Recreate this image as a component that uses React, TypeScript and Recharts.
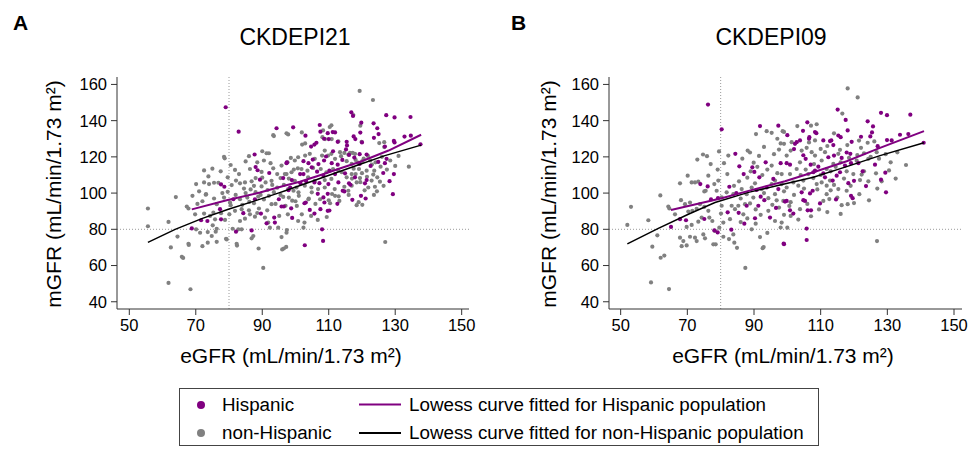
import React from 'react';
import { ScatterChart, Scatter, XAxis, YAxis, ReferenceLine } from 'recharts';

const FONT = '"Liberation Sans", Arial, Helvetica, sans-serif';
const PURPLE = '#800080';
const GRAY = '#808080';

const xTicks = [50, 70, 90, 110, 130, 150];
const yTicks = [40, 60, 80, 100, 120, 140, 160];
const titleA = 'CKDEPI21';
const titleB = 'CKDEPI09';
const xLabel = 'eGFR (mL/min/1.73 m²)';
const yLabel = 'mGFR (mL/min/1.73 m²)';
const legendLabels = ['Hispanic', 'non-Hispanic', 'Lowess curve fitted for Hispanic population', 'Lowess curve fitted for non-Hispanic population'];

const hispanicA: number[][] = [
  [68.8,80.5],[79,147.4],[82.9,133.9],[108.3,73.6],[102.8,71.2],[108,80],[137.6,126.9],[134.6,142],[129.8,141.8],[127.3,143],[129.3,99.4],[129.6,110.5],[128.3,106.6],[132.8,131.2],[129.8,128],[116.8,144.6],[117.3,142.6],[107.3,137.6],[99.3,136.3],[94.3,135.8],[119.8,138.9],[123.5,138.5],[119.5,133.4],[124.6,135.8],[125,132.6],
  [123.6,130.5],[134.7,131.7],[129.6,128.8],[120,128],[117.5,131.3],[118,129.8],[107.5,133.9],[109.7,133.1],[111.2,133.7],[111.9,133.5],[103,131.7],[106.3,127.8],[105.7,126.8],[104.7,125.7],[108.6,130],[110,129.8],[112.7,128.3],[115.4,128.3],[115.5,126.3],[115.2,124.1],[111.3,123.1],[109.2,120.2],[108.6,118],[106.9,116],[105.2,118.5],[103.9,116.5],[102.4,117.6],[104.9,114.2],[106.5,111.8],[110.9,116.5],[112.7,115.7],[114.1,118.3],[116.1,121.1],[117.7,119.6],[119.3,121.5],[121.4,121.3],[119.3,116.1],[122.6,115],[124.9,117.2],[126.9,116.5],[127.4,118.9],[126.4,111.1],[126.9,125.7],[116.1,105.4],[120.9,105.4],[121.4,107.2],[114.9,110.9],[111.9,110.5],[110.2,112.4],[108.4,109.6],[107.2,105.5],[105.7,105.9],[102.4,110.5],[101.4,110.5],[101.5,105.4],[98.9,107.2],[98.4,103.1],[97.4,117],[103.2,106.5],[109.9,105],[112.9,105.9],[114.2,101.3],[116.5,104.6],[117.9,108.7],
  [87.7,121.3],[88,114.4],[77.6,104.8],[78.6,103.5],[89.3,107.4],[88.6,112.6],[92.1,111.1],[97.3,116.5],[96.3,108.3],
  [71.6,85],[73.5,84.6],[77.6,85.5],[82.1,78.7],[86.8,79.4],[84.3,88.9],[89.6,88.7],[91.3,83.3],[93.8,83.7],[93.6,86.5],[95.8,92.6],[96.5,92.6],[95,96.6],[81.3,96.6],[77.3,91.1],
  [121.1,97],[119.7,98.5],[117.1,96.3],[114.7,100.9],[112.6,94.1],[109.7,90.2],[110.2,90.4],[107.5,91.1],[108.7,94.8],[108.4,97.6],[106.7,99.6],[105.7,88.7],[104.3,90.7],[103.1,94.8],[102.7,94.4],[98.7,91.6],[99,86.3],[97.9,101.6],[109.7,99.6],[87.8,96.6],
];

const nonHispanicA: number[][] = [
  [55.6,91.5],[55.6,81.7],[61.8,84.1],[61.8,50.4],[62.5,70],[64,97.8],[64.5,76],[65.8,64.8],[66.2,64.2],[68.4,46.9],[67.9,71.4],[78.5,120],[78.7,119.2],[90.3,58.7],[119.3,156.4],[123.3,151.4],[127,73],[96.5,69.4],[96,68.9],[88.9,69.4],[82.4,71],[79.3,74.4],[134.1,114.6],[110.3,136.5],[97.3,133],[97.8,132.4],[93.5,131.5],
  [117.4,143.1],[110.8,137.4],[119.5,137.2],[101.9,133.5],[108.3,134.6],[102,126.8],[102.9,127.4],[108.1,130.9],[108.9,129.8],[110.9,129.8],[112.9,128.5],[119.9,128.3],[125.2,127.6],[126.7,128.1],[126.7,125.4],[124.1,117],[125.6,114.6],[123.7,112.4],[123.4,110.2],[124.6,108.7],[125.4,106.3],[122.9,106.9],[121.9,103.1],[123.9,103.5],[121.4,112.4],[120.1,117.6],[119.1,113.3],[116.9,116.1],[115.9,121.3],[114.7,122.2],[113.4,122.6],[113.7,120.4],[116.4,122.2],[117.2,122.2],[117.9,121.7],[118.1,118.3],[115.4,117.6],[111.9,118.9],[110.8,121.7],[109.8,120.7],[108.8,123.5],[108,120.7],[105.8,118.9],[104.3,121.7],[102.9,120.7],[100.8,119.8],[99.8,118],[98.6,119.4],[97.6,117],[97.3,110.5],[98.8,111.5],[100.7,113.7],[101.8,113.3],[103.6,112.4],[105.3,113.9],[107.6,113.3],[109.3,111.5],[111.3,113.3],[112.8,112.8],[113.9,111.5],[115.4,108.7],[116.9,110.5],[118.1,110.5],[119.4,108.3],[118.4,105.9],[116.9,104.1],[114.7,103.5],[111.8,102.2],[108.8,103.1],[106.8,102.2],[104.8,103.1],[102.8,104.1],[100.3,103.1],[97.8,102.2],[110.8,107.8],[108.8,107.2],[105.8,106.8],[103.8,108.7],[99.8,106.8],
  [120.5,119],[121.8,120.5],[118.8,116.8],[122.5,118],[117.5,113.5],[120,111],[121.5,109],[119.5,106],[117,108],[123,115.8],[126,120],[128.5,118],[127.5,113],[130,115],[131,120.5],[126.5,104],[124.5,101],[120.8,101.5],[119,95],[116,99],[113,98.2],[111,99.5],[110,96],[106,94],[104,97],[101,98.5],[100,95.5],[98,97.5],
  [93.3,132],[90,123.1],[91.3,122],[92,122],[86,120.4],[86.3,113.3],[81.8,112.8],[73.8,109.2],[70.1,105],[72.5,105.9],[74,105],[75.5,105.7],[76.8,105.7],[79.6,108.7],[80.8,104.4],[82.1,106.9],[83.3,105.4],[84.8,105.9],[86.8,106.5],[88,108.3],[89.8,111.7],[93.3,113.7],[95.8,115.2],[94.5,110.5],[95.5,108.3],[96.8,110.5],[91,105.9],[92.8,106.8],[89.8,103.7],[91.6,101.7],
  [67.8,72],[70.1,80],[67.3,92.6],[67.8,91.5],[73,99.1],[69.8,88.3],[72.5,88.7],[74.3,87.4],[75.3,89.2],[77.6,88.9],[75.8,85.5],[75.1,82.2],[76.3,80.3],[76,78.7],[73.6,78.5],[71.3,78.1],[74.8,76.3],[76.3,73.1],[73.6,72.6],[72,70.7],[79.1,74.8],[80.1,88.3],[78.8,85.2],[82.3,72],[81.1,80.3],[83.8,80],[82.8,80],[87.3,76.3],[86.8,75],[83.3,84.6],[84.8,85.9],[86.3,88.3],[87.8,87],[90.8,86.5],[91.8,83.7],[92.3,80.9],[95.1,87.4],[95.8,75.7],[97.3,78.1],[94.8,80.9],[92.8,93.9],[96.3,97.9],[78,100],[79.6,100.7],[80.3,94.8],[81.8,90.2],[83.8,91.1],[83.3,96.6],[76.3,93.9],
  [123.6,99],[120.1,93.5],[118.4,93.3],[115.9,101.3],[113.2,95.7],[111.9,98.5],[110.4,94.4],[109.4,86.8],[106.7,85.2],[104.7,87.4],[102.7,83.7],[100.8,84.6],[100.4,92.9],[97.7,88.3],[101.9,88.3],[103.9,96.6],[102.4,80.9],[97.4,79.6],[97.2,70.3],[99.4,101.3],[100.9,100.4],[104.9,100.4],[107.4,96.6],
  [73.1,99.4],[80.5,93.3],[86.1,95.1],[87.5,94.4],[88.8,98.1],
  [85,100],[86.5,102],[88,100.5],[89.5,99],[90.5,96.5],[92,98.5],[93.5,100.5],[94.5,103],[95.5,99],[96.5,104.5],[93,104.5],[90,108.5],[87.5,104],[85.5,97.5],[84,93.5],[82,99],[89,91.5],[91.5,90.5],[94,94],[97,93],[99,95.8],[86,90.5],[88.5,89],[84.5,102.5],[98,108],[99.5,113],[92.5,116.5],[90.5,118],[88.5,117],[85,117.5],[83,110.5],[80.5,115.5],[77.5,112],[75,113.5],[72.5,112.5],[71,101],[69,98.5],[75.5,97],[78.5,97.5],[70.5,94],[72,95.5],
];

const hispanicB: number[][] = [
  [76.2,148.9],[80.3,135.2],[65.1,81.3],[73.9,105],[76.1,103.7],[69.6,85],[67.8,85.6],[75.1,85.7],[78.1,79.4],[79.1,78.3],[83.2,79.8],[82.1,89.4],[85.4,89.1],[87.1,83.1],[90.3,86.1],[91.3,93],[94.8,86.5],[98.9,72.1],[96.6,91.8],[91.8,137],[97.3,137.2],[84.4,121.7],[85.6,114.8],[86.9,110.5],[89.5,114.2],[93.5,117],[98,116.5],[91.6,108.7],[90.1,111.7],[95.8,107.8],[82.6,103.5],[77.1,96.5],[79.2,97.2],[84.7,100],[90.8,101.7],[93.8,103.1],[92,98],[93.1,96.1],[97.3,102.2],[87.8,93],
  [115.1,146.1],[128.1,144.3],[129.9,143],[136.9,143.3],[117.5,140.4],[124.1,139.6],[125.7,136.8],[106,139.1],[104.7,134.4],[100,132],[106.6,130.9],[106.5,130],[108.3,133.7],[108.7,133.1],[115.3,131.8],[116,130.9],[118.1,134.6],[122.1,131.1],[124.9,131.3],[125.4,133.5],[129.9,129.3],[131.3,129.1],[133.8,132.2],[136.3,132.6],[140.9,127.8],[119.3,128.3],[127.1,125.9],[118.9,121.7],[117.8,122.4],[113.8,126.5],[113.2,129.1],[110.8,129.1],[112.8,128.7],[103.8,129.1],[102.3,127.2],[102.8,128.1],[102,124.3],[99.8,116.5],[100.8,115.7],[104.8,120.9],[105.5,118.9],[107,115.7],[109.3,114.6],[107.8,111.5],[108.3,112.4],[112.3,119.8],[114,120.7],[116.3,119.4],[117.3,115.2],[119.1,116.5],[115.8,111.5],[114.8,109.6],[113.6,106.9],[110.8,110.9],[111.3,108.7],[122.6,112],[121.3,116.5],[126.3,115.7],[129.4,111.3],[128.1,107.4],[120,106.8],[118.3,105.5],[123.6,103.9],[129.6,100.4],[119.1,98.5],[119.6,97.2],[114.6,96.5],[109.8,94.3],[107.6,101.3],[106.8,99.8],[104.3,100.4],[105.3,95.7],[104.8,96.1],[99.8,95.7],[99.3,95.3],[101.8,88.7],[100.8,90.5],[106.1,90.5],[107.1,90.5],[105.8,80.4],[105.8,74.1],[99,71.8],
];

const nonHispanicB: number[][] = [
  [74.7,121.3],[75.9,120.4],[53.1,92.4],[52,82.4],[58.3,85],[61.9,98.7],[61,76.7],[59.5,70.4],[62,64.3],[63.1,65.5],[59.1,50.7],[64.5,47],[64.3,92.6],[64.6,91.5],[67.8,105.4],[70.1,109.6],[71.3,105.9],[72.3,105.9],[73.3,106.3],[75.1,100.9],[75.5,101.3],[76.3,109.6],[79.1,113],[75.1,92.4],[76.3,90.2],[66.3,88.3],[70.3,89.8],[71.5,90.2],[72.8,91.3],[73.8,93.9],[70.8,94.8],[69.3,93.9],[68.1,96.1],[74.3,86.5],[73.3,84.2],[71.3,82.4],[69.8,81.3],[67.8,75.4],[68.8,73.5],[70.8,75.9],[72.3,75.4],[72.8,73.5],[69.8,71.1],[68.3,70.7],[74.8,77.2],[75.3,75],[76.6,86.5],[77.5,84.6],[78.3,79.1],[77.8,71.7],[78.5,71.7],[79.6,80.9],[80.8,75.9],[82.5,74.6],[83.8,77.2],[84.1,72.6],[84.9,69.8],[87.4,58.7],[80.8,83.7],[82.8,85.6],[80.1,88.7],[84.3,91.1],[86.8,88.3],[89.3,80],[90.5,83.1],[91.8,75.7],[92.9,70.2],[92.6,69.6],[96.3,84.6],[94.3,90.2],[90.6,132.6],[93.8,134.2],[95.3,133.3],[98,127.4],[88.1,123.5],[88.8,122.4],[82.3,120.7],[89.9,116.8],[95.3,115.2],[79.3,106.9],[78.1,105],[78.8,101.3],[80.3,97.6],[81.8,100.4],[83.8,99.4],[86.3,102.2],[87.8,99.4],[89.3,103.1],[90.3,105.4],[92.3,102.2],[95.3,105],[94.3,97.2],[96.3,99.4],[98.8,95.7],[98.3,105],[96.3,106.9],[87.3,93.9],[88.8,94.3],[85.3,93],[83.3,93],[80.3,93],
  [85.5,106.5],[88,108.5],[92.5,110],[94,113],[97,111],[91,114.5],[86,97],[84,104],[89.8,97.5],[93,100],[96.8,96],[99,101],[97.5,92],[95.5,93.5],[90.5,91],[92,88],[88,86],[86,84],[99,88],[98,81],[94,78],[89,112],[82,110.5],[81,116.5],[77,116],[73,118.5],[79.5,123],[86.5,119],[91.5,120.5],[96,121.5],[97.5,124],[93,125.5],[99,133.8],
  [118.1,157.8],[121.1,152.8],[116.5,143.9],[107.1,137.2],[108.8,138],[98.6,134.2],[108.3,129.1],[126.1,128.5],[124.1,127.8],[122.1,125],[126.9,73.5],[135.6,115.5],[126.6,110.9],[124.3,106.5],[121.6,99.4],[118.1,93.9],[116.3,93.3],[107.1,87.2],[103.3,85.4],[100,80.9],[98.3,83.7],[101,87.4],[103.8,91.1],[100.6,92.9],[111.8,99.4],[110.8,95.7],[112.6,96.7],[115.3,102.2],[117.8,101.3],[121.8,107.2],[119.8,110.5],[117.8,112],[112.8,106.9],[111.8,104.1],[110.3,105.9],[108.8,105],[107.8,108.3],[106.3,110.5],[104.8,106.9],[103.3,104.1],[101.8,105.9],[99.8,103.1],[98.3,110.5],[100.8,110.5],[102.8,113.3],[99.8,120.7],[103.8,117],[110.3,118],[111.8,113.3],[113.8,116.1],[115.3,121.7],[115.8,123.9],[120.8,117.9],[124.3,118.9],[122.3,110.2],[111.3,122.6],[110,124.4],[108.3,120.7],[107.3,122.6],[105.8,125],[104.3,123.5],[99,127.2],[101.3,128.1],[126.8,122.6],[128.3,106.5],
  [113,112],[114.5,114.5],[116,117],[118.5,119.5],[121,121],[123,122],[125,120],[127.5,119],[129.5,121.5],[131,117],[133,122.5],[130.5,112.5],[132.5,108],[127,102.5],[124.5,96],[120,94.5],[115,97.5],[113,101.5],[109,102],[105,102.5],[102,99],[101,95],[106,94],[109.5,91],[112,89.5],[116,88.5],[119,104],[123,112],[117,108],[114,104.5],[105.5,113],[104,110],[110,110],[108,116],[112,126],[118,126.5],[121.5,129],[114,133],[103,137],[97,130],[101,123.5],[106.5,128],
];

const lowessHispA: number[][] = [[68.8,91],[79.3,96],[89.3,100.3],[96.9,104.2],[101.3,106.3],[106.9,109.6],[114,114],[119.9,117.6],[128,123.5],[137.8,132.2]];
const lowessNonA: number[][] = [[55.6,72.8],[63.8,80],[71.8,85.9],[79.8,91.1],[87.8,95.7],[94.8,100],[96.9,101.3],[106.9,107.8],[116.9,114.3],[126.9,120.7],[137.8,126.5]];
const lowessHispB: number[][] = [[65.1,90.7],[80.3,97.2],[90.3,102.2],[99.3,106.5],[107.8,111.5],[117.8,117.6],[127.8,125],[141,134.2]];
const lowessNonB: number[][] = [[52,72],[61.3,80.5],[70.3,88.3],[78.3,94.8],[88.3,100.4],[97.8,104.5],[107.8,108.7],[117.8,114.6],[127.8,120.7],[141,127.8]];

const toXY = (arr: number[][]) => arr.map(([x, y]) => ({ x, y }));

const dot = (color: string) => (props: any) => (
  <circle cx={props.cx} cy={props.cy} r={2.1} fill={color} />
);
const noShape = () => <g />;

const tickStyle = { fontSize: 16.5, fill: '#000', fontFamily: FONT };

function Panel(props: {
  left: number; marginLeft: number; marginRight: number; xDomain: [number, number];
  hisp: number[][]; non: number[][]; lHisp: number[][]; lNon: number[][];
}) {
  return (
    <div style={{ position: 'absolute', left: props.left, top: 0 }}>
      <ScatterChart width={480} height={380} margin={{ top: 77, right: props.marginRight, bottom: 41, left: props.marginLeft }}>
        <XAxis type="number" dataKey="x" domain={props.xDomain} ticks={xTicks} allowDataOverflow
          height={30} tickSize={6} tickMargin={4} stroke="#333" tick={tickStyle} interval={0} />
        <YAxis type="number" dataKey="y" domain={[36, 164.1]} ticks={yTicks} allowDataOverflow
          width={60} tickSize={6} tickMargin={4} stroke="#333" tick={tickStyle} interval={0} />
        <ReferenceLine x={80} stroke="#9a9a9a" strokeDasharray="1 2" />
        <ReferenceLine y={80} stroke="#9a9a9a" strokeDasharray="1 2" />
        <Scatter data={toXY(props.non)} fill={GRAY} shape={dot(GRAY)} isAnimationActive={false} />
        <Scatter data={toXY(props.hisp)} fill={PURPLE} shape={dot(PURPLE)} isAnimationActive={false} />
        <Scatter data={toXY(props.lNon)} line={{ stroke: '#000', strokeWidth: 1.5 }} shape={noShape} isAnimationActive={false} />
        <Scatter data={toXY(props.lHisp)} line={{ stroke: PURPLE, strokeWidth: 2 }} shape={noShape} isAnimationActive={false} />
      </ScatterChart>
    </div>
  );
}

const abs = (x: number, y: number, extra: React.CSSProperties = {}): React.CSSProperties => ({
  position: 'absolute', left: x, top: y, transform: 'translate(-50%, -50%)', whiteSpace: 'nowrap',
  fontFamily: FONT, color: '#000', lineHeight: 1, ...extra,
});

export default function App() {
  return (
    <div style={{ position: 'absolute', left: 0, top: 0, width: 971, height: 450, background: '#fff', fontFamily: FONT }}>
      <Panel left={0} marginLeft={57} marginRight={11} xDomain={[46.3, 152.2]}
        hisp={hispanicA} non={nonHispanicA} lHisp={lowessHispA} lNon={lowessNonA} />
      <Panel left={490} marginLeft={59} marginRight={8} xDomain={[46.5, 152.4]}
        hisp={hispanicB} non={nonHispanicB} lHisp={lowessHispB} lNon={lowessNonB} />

      <div style={abs(20.5, 22, { fontSize: 21, fontWeight: 'bold' })}>A</div>
      <div style={abs(518.5, 22, { fontSize: 21, fontWeight: 'bold' })}>B</div>
      <div style={abs(295, 36.5, { fontSize: 23 })}>{titleA}</div>
      <div style={abs(771, 36.5, { fontSize: 23 })}>{titleB}</div>
      <div style={abs(291, 355, { fontSize: 21 })}>{xLabel}</div>
      <div style={abs(783, 355, { fontSize: 21 })}>{xLabel}</div>
      <div style={abs(53, 194, { fontSize: 21, transform: 'translate(-50%, -50%) rotate(-90deg)' })}>{yLabel}</div>
      <div style={abs(548, 194, { fontSize: 21, transform: 'translate(-50%, -50%) rotate(-90deg)' })}>{yLabel}</div>

      <div style={{ position: 'absolute', left: 179, top: 388, width: 638, height: 56, border: '1px solid #444', boxSizing: 'content-box' }} />
      <svg style={{ position: 'absolute', left: 0, top: 0 }} width={971} height={450} pointerEvents="none">
        <circle cx={201} cy={405} r={4} fill={PURPLE} />
        <circle cx={201} cy={433} r={4} fill={GRAY} />
        <line x1={359} x2={401} y1={404.5} y2={404.5} stroke={PURPLE} strokeWidth={2} />
        <line x1={359} x2={401} y1={433} y2={433} stroke="#000" strokeWidth={2} />
      </svg>
      <div style={{ ...abs(222, 404.5, { fontSize: 18.8 }), transform: 'translate(0, -50%)' }}>{legendLabels[0]}</div>
      <div style={{ ...abs(222, 433, { fontSize: 18.8 }), transform: 'translate(0, -50%)' }}>{legendLabels[1]}</div>
      <div style={{ ...abs(409, 404.5, { fontSize: 18.8 }), transform: 'translate(0, -50%)' }}>{legendLabels[2]}</div>
      <div style={{ ...abs(409, 433, { fontSize: 18.8 }), transform: 'translate(0, -50%)' }}>{legendLabels[3]}</div>
    </div>
  );
}
